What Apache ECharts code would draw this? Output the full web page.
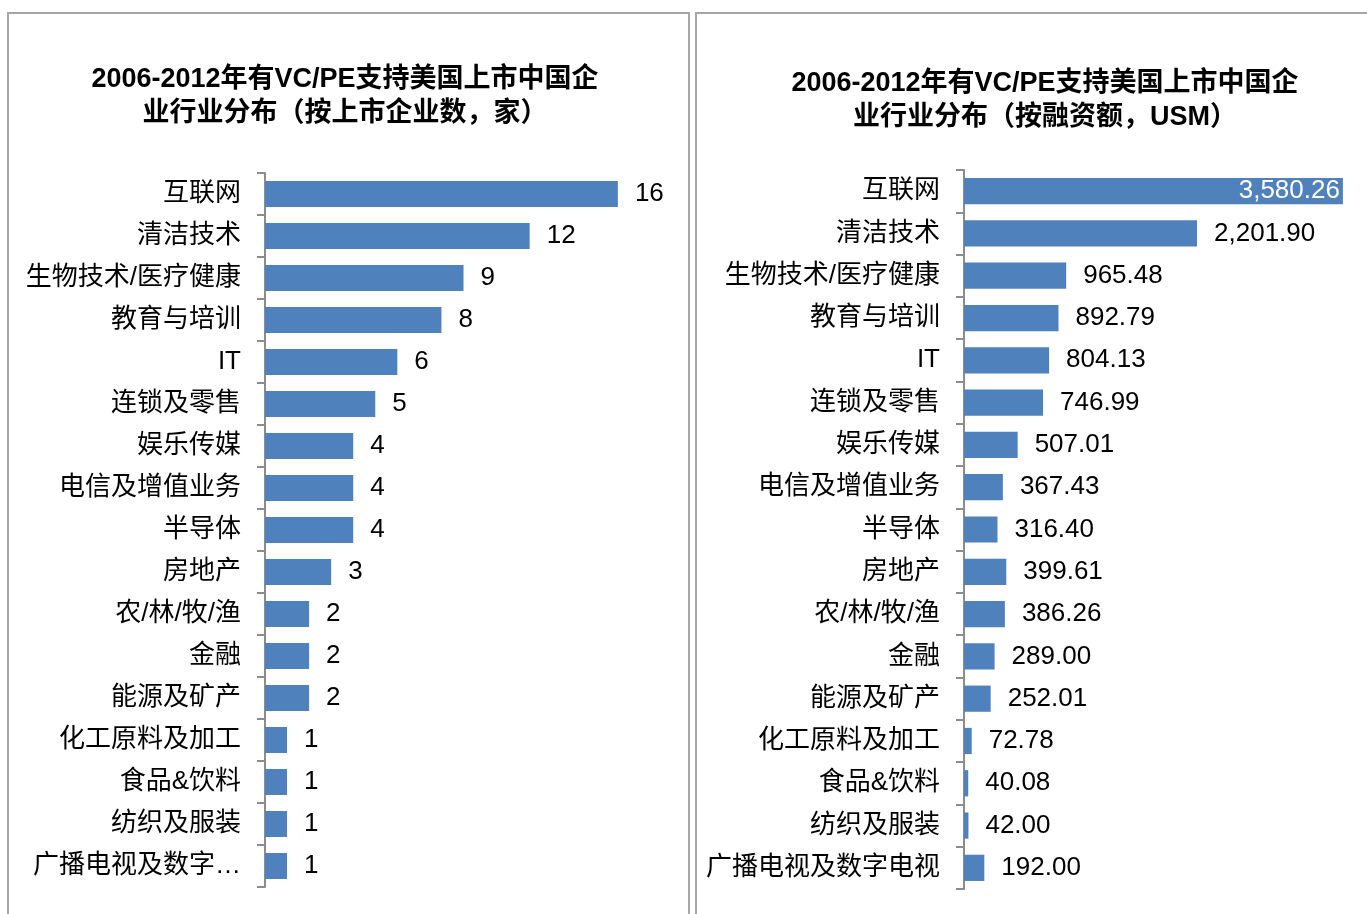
<!DOCTYPE html>
<html>
<head>
<meta charset="utf-8">
<script src="https://cdn.jsdelivr.net/npm/echarts@6/dist/echarts.min.js"></script>
<style>
  html, body { margin: 0; padding: 0; background: #fff; }
  #chart { width: 1367px; height: 914px; }
</style>
</head>
<body>
<div id="chart"></div>
<script>
// 行业分类
var industries = ['互联网', '清洁技术', '生物技术/医疗健康', '教育与培训', 'IT', '连锁及零售', '娱乐传媒',
    '电信及增值业务', '半导体', '房地产', '农/林/牧/渔', '金融', '能源及矿产', '化工原料及加工',
    '食品&饮料', '纺织及服装', '广播电视及数字电视'];
// 上市企业数（家）
var companyCount = [16, 12, 9, 8, 6, 5, 4, 4, 4, 3, 2, 2, 2, 1, 1, 1, 1];
// 融资额（USM）
var financing = [3580.26, 2201.90, 965.48, 892.79, 804.13, 746.99, 507.01, 367.43, 316.40,
    399.61, 386.26, 289.00, 252.01, 72.78, 40.08, 42.00, 192.00];

var titles = ['2006-2012年有VC/PE支持美国上市中国企\n业行业分布（按上市企业数，家）',
    '2006-2012年有VC/PE支持美国上市中国企\n业行业分布（按融资额，USM）'];

var FONT = '"Liberation Sans", "Noto Sans CJK SC", sans-serif';
var BAR = '#4F81BD';
var AXIS = '#8c8c8c';

function catAxis(gridIndex, truncate) {
    var label = {
        color: '#000', fontSize: 26, fontFamily: FONT, margin: 24, padding: [4, 0, 0, 0]
    };
    if (truncate) {
        label.width = 218;
        label.overflow = 'truncate';
        label.ellipsis = '…';
    }
    return {
        type: 'category', gridIndex: gridIndex, inverse: true, data: industries,
        axisLine: { show: true, lineStyle: { color: AXIS, width: 2 } },
        axisTick: { show: true, inside: false, alignWithLabel: false, length: 8, lineStyle: { color: AXIS, width: 2 } },
        axisLabel: label
    };
}

function fmt(v) {
    return v.toLocaleString('en-US', { minimumFractionDigits: 2, maximumFractionDigits: 2 });
}

$chart = document.getElementById('chart');
var chart = echarts.init($chart);

var amountData = financing.map(function (v, i) {
    if (i === 0) {
        // 最长的那根条，标签放在条内
        return { value: v, label: { position: 'insideRight', color: '#fff', distance: 3 } };
    }
    return v;
});

var valueLabel = {
    show: true, position: 'right', distance: 17, color: '#000', fontSize: 26, fontFamily: FONT,
    padding: [4, 0, 0, 0]
};

var option = {
    animation: false,
    backgroundColor: '#fff',
    graphic: [
        { type: 'rect', shape: { x: 8, y: 13, width: 681, height: 1000 },
          style: { fill: 'none', stroke: '#a6a6a6', lineWidth: 2 } },
        { type: 'rect', shape: { x: 696, y: 13, width: 1000, height: 1000 },
          style: { fill: 'none', stroke: '#a6a6a6', lineWidth: 2 } }
    ],
    title: [
        { text: titles[0], left: 340, top: 58, textAlign: 'center',
          textStyle: { fontSize: 27, fontWeight: 'bold', color: '#000', fontFamily: FONT, lineHeight: 34 } },
        { text: titles[1], left: 1040, top: 62, textAlign: 'center',
          textStyle: { fontSize: 27, fontWeight: 'bold', color: '#000', fontFamily: FONT, lineHeight: 34 } }
    ],
    grid: [
        { left: 265, top: 173, width: 397, height: 714 },
        { left: 964, top: 170, width: 381, height: 719 }
    ],
    xAxis: [
        { type: 'value', gridIndex: 0, min: 0, max: 18, show: false, splitLine: { show: false } },
        { type: 'value', gridIndex: 1, min: 0, max: 3600, show: false, splitLine: { show: false } }
    ],
    yAxis: [catAxis(0, true), catAxis(1, false)],
    series: [
        {
            type: 'bar', xAxisIndex: 0, yAxisIndex: 0, data: companyCount,
            barCategoryGap: '38%',
            itemStyle: { color: BAR },
            label: valueLabel
        },
        {
            type: 'bar', xAxisIndex: 1, yAxisIndex: 1, data: amountData,
            barCategoryGap: '38%',
            itemStyle: { color: BAR },
            label: Object.assign({}, valueLabel, {
                formatter: function (p) { return fmt(p.value); }
            })
        }
    ]
};

chart.setOption(option);
</script>
</body>
</html>
